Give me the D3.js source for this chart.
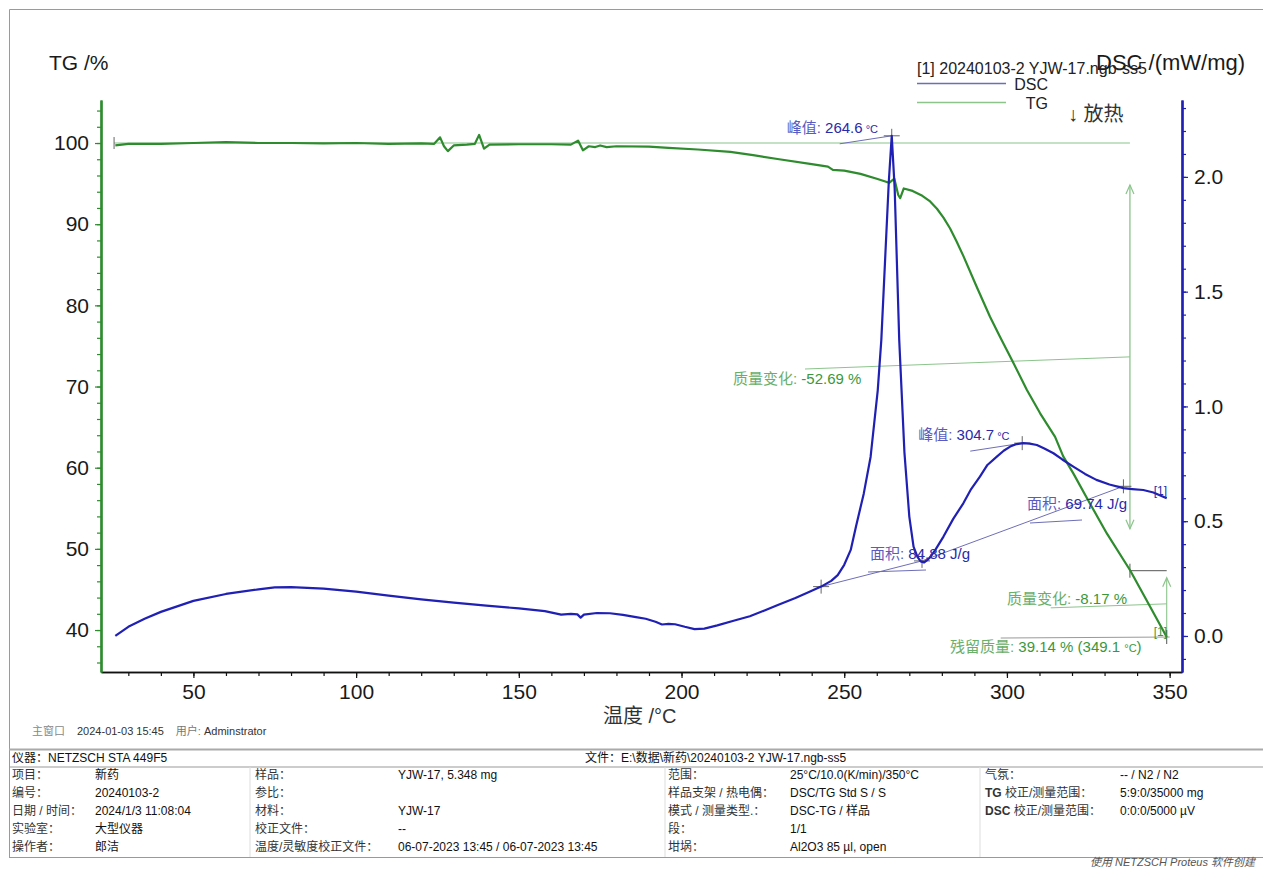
<!DOCTYPE html>
<html>
<head>
<meta charset="utf-8">
<title>DSC-TG 20240103-2 YJW-17</title>
<script src="https://cdn.jsdelivr.net/npm/d3@7"></script>
<style>
  html, body { margin: 0; background: #fff; }
  svg { display: block; font-family: "Liberation Sans", Arial, "Noto Sans CJK SC", sans-serif; }
  .tick text { font-family: "Liberation Sans", Arial, sans-serif; }
</style>
</head>
<body>
<script>
// ---- data ----
var tgTemp = [26, 30, 40, 50, 60, 70, 80, 90, 100, 110, 120, 124, 125.8, 127, 128.2, 130, 134, 136.5, 137.8, 139.3, 141,
    150, 160, 166, 168.2, 169.7, 171.5, 173.5, 175, 177, 180, 190, 196, 205, 215, 222, 230, 240, 245, 246.5, 250, 255,
    260, 263.8, 265.4, 266.6, 267.2, 268.3, 271, 274, 276.4, 278.5, 280.5, 282.5, 284.5, 286.6, 290.7, 294.8, 297.9,
    302.0, 306.1, 310.2, 314.8, 317.3, 320.4, 325.5, 330.7, 337.8, 343, 349.1];
var tgVal = [99.7, 99.9, 99.9, 100.0, 100.1, 100.0, 100.0, 99.95, 100.0, 99.9, 99.95, 99.9, 100.7, 99.6, 99.0, 99.7, 99.8,
    99.9, 101.0, 99.3, 99.8, 99.85, 99.85, 99.8, 100.3, 99.1, 99.6, 99.5, 99.7, 99.5, 99.6, 99.55, 99.4, 99.2, 98.9, 98.5,
    98.0, 97.4, 97.1, 96.7, 96.6, 96.2, 95.6, 95.1, 95.6, 93.6, 93.2, 94.4, 94.1, 93.5, 92.8, 91.9, 90.8, 89.5, 87.9,
    86.1, 82.3, 78.6, 76.1, 72.9, 69.6, 66.7, 63.8, 61.4, 59.3, 55.6, 51.9, 47.4, 43.6, 39.14];

var dscTemp = [26, 28, 30, 35, 40, 50, 60, 70, 75, 80, 90, 100, 110, 120, 130, 140, 150, 158, 163, 166, 168, 169, 170,
    174, 178, 182, 186, 189, 192, 194, 196, 198, 201, 204, 207, 211, 216, 221, 225.5, 229.6, 235, 239, 242.9, 246, 248,
    250, 252, 253.6, 256, 258.1, 260.3, 261.4, 262.5, 263.7, 264.6, 265.5, 266.9, 268.5, 270, 271.3, 272.5, 273.5,
    274.5, 275.5, 276.5, 278, 280.5, 283.5, 286.6, 289, 291.7, 294, 296.9, 299, 301, 303, 305, 307, 309.2, 311.5,
    314.3, 317, 320.4, 324, 327.5, 331.5, 335.8, 338.5, 341.9, 345, 349.1];
var dscVal = [0.0, 0.02, 0.04, 0.075, 0.105, 0.153, 0.183, 0.203, 0.212, 0.213, 0.206, 0.193, 0.176, 0.159, 0.145, 0.132,
    0.12, 0.108, 0.093, 0.096, 0.094, 0.080, 0.093, 0.100, 0.099, 0.092, 0.082, 0.075, 0.062, 0.050, 0.053, 0.051,
    0.040, 0.030, 0.032, 0.046, 0.066, 0.086, 0.111, 0.135, 0.165, 0.190, 0.215, 0.240, 0.265, 0.31, 0.375, 0.476,
    0.62, 0.78, 1.07, 1.29, 1.62, 1.98, 2.179, 1.95, 1.29, 0.80, 0.52, 0.389, 0.345, 0.325, 0.320, 0.330, 0.345,
    0.375, 0.433, 0.51, 0.578, 0.64, 0.694, 0.745, 0.781, 0.807, 0.825, 0.836, 0.840, 0.838, 0.832, 0.817, 0.796,
    0.769, 0.738, 0.706, 0.680, 0.660, 0.644, 0.640, 0.636, 0.625, 0.600];

var xTicks = [50, 100, 150, 200, 250, 300, 350];
var tgTicks = [40, 50, 60, 70, 80, 90, 100];
var dscTicks = [0.0, 0.5, 1.0, 1.5, 2.0];

// evaluation points (temperature, value)
var dscPeaks = [[264.6, 2.179], [304.7, 0.840]];
var dscBase = [[242.9, 0.215], [273.9, 0.327], [335.8, 0.652]];
var tgSteps = [[25, 100], [337.8, 47.31], [349.1, 39.14]];

var legendTitle = "[1]  20240103-2 YJW-17.ngb-ss5";
var legendItems = ["DSC", "TG"];

var tableHead = ["仪器：NETZSCH STA 449F5", "文件：E:\\数据\\新药\\20240103-2 YJW-17.ngb-ss5"];
var tableRows = [
    ["项目：", "新药", "样品：", "YJW-17, 5.348 mg", "范围：", "25°C/10.0(K/min)/350°C", "气氛：", "-- / N2 / N2"],
    ["编号：", "20240103-2", "参比：", "", "样品支架 / 热电偶：", "DSC/TG Std S / S", "TG 校正/测量范围：", "5:9:0/35000 mg"],
    ["日期 / 时间：", "2024/1/3 11:08:04", "材料：", "YJW-17", "模式 / 测量类型.：", "DSC-TG / 样品", "DSC 校正/测量范围：", "0:0:0/5000 µV"],
    ["实验室：", "大型仪器", "校正文件：", "--", "段：", "1/1", "", ""],
    ["操作者：", "郎洁", "温度/灵敏度校正文件：", "06-07-2023 13:45 / 06-07-2023 13:45", "坩埚：", "Al2O3 85 µl, open", "", ""]
];

// ---- layout ----
var W = 1263, H = 869;
var green = "#2e8b2e", blue = "#2020b4";
var lgreen = "#8cc48c", lblue = "#6e6eb8";

var svg = d3.select("body").append("svg").attr("width", W).attr("height", H);

var x = d3.scaleLinear().domain([21.6, 353.8]).range([101, 1182]);
var yTG = d3.scaleLinear().domain([34.83, 105.3]).range([672, 100]);
var yDSC = d3.scaleLinear().domain([-0.157, 2.335]).range([672, 100]);

// outer frame
svg.append("path").attr("d", "M9.5,858 V9.5 H1263").attr("fill", "none").attr("stroke", "#9a9a9a");

// axes
function styleAxis(g, col, w) {
    g.select(".domain").attr("stroke", col).attr("stroke-width", w);
    g.selectAll(".tick line").attr("stroke", col).attr("stroke-width", 1.2);
    g.selectAll(".tick text").attr("fill", "#1a1a1a").attr("font-size", 21);
}

svg.append("g").attr("transform", "translate(0,672)")
    .call(d3.axisBottom(x).tickValues(d3.range(30, 351, 10)).tickSize(4).tickFormat("").tickSizeOuter(0))
    .call(styleAxis, "#111", 1.6);
svg.append("g").attr("transform", "translate(0,672)")
    .call(d3.axisBottom(x).tickValues(xTicks).tickSize(6).tickPadding(6).tickSizeOuter(0))
    .call(styleAxis, "#111", 1.6);

svg.append("g").attr("transform", "translate(101,0)")
    .call(d3.axisLeft(yTG).tickValues(d3.range(36, 105, 2)).tickSize(4).tickFormat("").tickSizeOuter(0))
    .call(styleAxis, green, 2.2);
svg.append("g").attr("transform", "translate(101,0)")
    .call(d3.axisLeft(yTG).tickValues(tgTicks).tickSize(6).tickPadding(6).tickSizeOuter(0))
    .call(styleAxis, green, 2.2);

svg.append("g").attr("transform", "translate(1182,0)")
    .call(d3.axisRight(yDSC).tickValues(d3.range(-1, 24).map(function (d) { return d / 10; })).tickSize(4).tickFormat("").tickSizeOuter(0))
    .call(styleAxis, blue, 2.2);
svg.append("g").attr("transform", "translate(1182,0)")
    .call(d3.axisRight(yDSC).tickValues(dscTicks).tickSize(6).tickPadding(6).tickFormat(d3.format(".1f")).tickSizeOuter(0))
    .call(styleAxis, blue, 2.2);

// axis titles
svg.append("text").attr("x", 49).attr("y", 70).attr("font-size", 21).attr("fill", "#1a1a1a").text("TG /%");
svg.append("text").attr("x", 1096).attr("y", 70).attr("font-size", 22).attr("fill", "#1a1a1a").text("DSC /(mW/mg)");
svg.append("text").attr("x", 603).attr("y", 723).attr("font-size", 20).attr("fill", "#333").text("温度 /°C");
svg.append("text").attr("x", 1068).attr("y", 121).attr("font-size", 20).attr("fill", "#333").text("↓ 放热");

// legend
svg.append("text").attr("x", 917).attr("y", 74).attr("font-size", 16).attr("fill", "#222").text(legendTitle);
legendItems.forEach(function (d, i) {
    var yy = 83.5 + i * 19;
    svg.append("line").attr("x1", 917).attr("x2", 1006).attr("y1", yy).attr("y2", yy)
        .attr("stroke", i ? lgreen : lblue).attr("stroke-width", 1.3);
    svg.append("text").attr("x", 1048).attr("y", yy + 6).attr("text-anchor", "end")
        .attr("font-size", 16).attr("fill", "#222").text(d);
});

// ---- TG evaluation marks (under curves) ----
var p0 = tgSteps[0], p1 = tgSteps[1], p2 = tgSteps[2];
var xs = x(p1[0]), yTop = yTG(100), yMid = yTG(p1[1]);
svg.append("line").attr("x1", x(p0[0]) + 2).attr("x2", xs).attr("y1", yTop).attr("y2", yTop)
    .attr("stroke", lgreen).attr("stroke-width", 1.2);
svg.append("line").attr("x1", x(p0[0]) + 2).attr("x2", x(p0[0]) + 2).attr("y1", yTop - 6).attr("y2", yTop + 6)
    .attr("stroke", "#666").attr("stroke-width", 1);

function arrowHead(px, py, dir, col) {
    // dir: -1 points up, 1 points down
    svg.append("path")
        .attr("d", "M" + (px - 4) + "," + (py - dir * 9) + " L" + px + "," + py + " L" + (px + 4) + "," + (py - dir * 9))
        .attr("fill", "none").attr("stroke", col).attr("stroke-width", 1.2);
}
var aTop = yTop + 42, aBot = yMid - 42;
svg.append("line").attr("x1", xs).attr("x2", xs).attr("y1", aTop).attr("y2", aBot).attr("stroke", lgreen).attr("stroke-width", 1.3);
arrowHead(xs, aTop, -1, lgreen);
arrowHead(xs, aBot, 1, lgreen);
svg.append("line").attr("x1", 805).attr("y1", 369).attr("x2", xs).attr("y2", (yTop + yMid) / 2)
    .attr("stroke", lgreen).attr("stroke-width", 1);

var xe = x(p2[0]), yEnd = yTG(p2[1]);
svg.append("line").attr("x1", xs).attr("x2", xe).attr("y1", yMid).attr("y2", yMid).attr("stroke", "#555").attr("stroke-width", 1);
svg.append("line").attr("x1", xs).attr("x2", xs).attr("y1", yMid - 7).attr("y2", yMid + 7).attr("stroke", "#555").attr("stroke-width", 1);
svg.append("line").attr("x1", xe).attr("x2", xe).attr("y1", yMid + 7).attr("y2", yEnd).attr("stroke", lgreen).attr("stroke-width", 1.1);
arrowHead(xe, yMid + 7, -1, lgreen);
svg.append("line").attr("x1", xe - 116).attr("y1", (yMid + yEnd) / 2 + 4).attr("x2", xe).attr("y2", (yMid + yEnd) / 2)
    .attr("stroke", lgreen).attr("stroke-width", 1);
svg.append("line").attr("x1", xe - 166).attr("y1", yEnd + 1).attr("x2", xe + 3).attr("y2", yEnd).attr("stroke", "#999").attr("stroke-width", 1);
svg.append("line").attr("x1", xe).attr("x2", xe).attr("y1", yEnd - 7).attr("y2", yEnd + 7).attr("stroke", "#555").attr("stroke-width", 1);

// ---- DSC evaluation marks ----
function plus(px, py, col) {
    svg.append("line").attr("x1", px - 8).attr("x2", px + 8).attr("y1", py).attr("y2", py).attr("stroke", col).attr("stroke-width", 1);
    svg.append("line").attr("x1", px).attr("x2", px).attr("y1", py - 7).attr("y2", py + 7).attr("stroke", col).attr("stroke-width", 1);
}
dscPeaks.forEach(function (d) {
    var px = x(d[0]), py = yDSC(d[1]);
    svg.append("line").attr("x1", px - 52).attr("y1", py + 8).attr("x2", px).attr("y2", py).attr("stroke", lblue).attr("stroke-width", 1);
    plus(px, py, "#666");
});
for (var i = 0; i < 2; i++) {
    var a = dscBase[i], b = dscBase[i + 1];
    svg.append("line").attr("x1", x(a[0])).attr("y1", yDSC(a[1])).attr("x2", x(b[0])).attr("y2", yDSC(b[1]))
        .attr("stroke", lblue).attr("stroke-width", 1);
}
dscBase.forEach(function (d) { plus(x(d[0]), yDSC(d[1]), "#666"); });
// leaders from baselines to area labels
svg.append("line").attr("x1", 868).attr("y1", 572).attr("x2", 926).attr("y2", 570).attr("stroke", lblue).attr("stroke-width", 1);
svg.append("line").attr("x1", 1030).attr("y1", 523).attr("x2", 1082).attr("y2", 520).attr("stroke", lblue).attr("stroke-width", 1);

// ---- curves ----
var lineTG = d3.line().x(function (d) { return x(d[0]); }).y(function (d) { return yTG(d[1]); });
var lineDSC = d3.line().x(function (d) { return x(d[0]); }).y(function (d) { return yDSC(d[1]); });

svg.append("path").datum(d3.zip(tgTemp, tgVal)).attr("d", lineTG)
    .attr("fill", "none").attr("stroke", green).attr("stroke-width", 2.2).attr("stroke-linejoin", "round");
svg.append("path").datum(d3.zip(dscTemp, dscVal)).attr("d", lineDSC)
    .attr("fill", "none").attr("stroke", blue).attr("stroke-width", 2.2).attr("stroke-linejoin", "round");

// ---- annotation texts ----
function note(px, py, parts, size) {
    var t = svg.append("text").attr("x", px).attr("y", py).attr("font-size", size || 15);
    parts.forEach(function (p) {
        t.append("tspan").attr("fill", p[1]).attr("font-size", p[2] || null).text(p[0]);
    });
}
var gLab = "#6aae6a", gNum = "#3a983a", bLab = "#5a5abf", bNum = "#2a2aaa";
note(x(264.6) - 105, yDSC(2.179) - 3, [["峰值: ", bLab], ["264.6", bNum], [" °C", bNum, 11]]);
note(x(304.7) - 104, yDSC(0.840) - 3, [["峰值: ", bLab], ["304.7", bNum], [" °C", bNum, 11]]);
note(870, 559, [["面积: ", bLab], ["84.88 J/g", bNum]]);
note(1027, 509, [["面积: ", bLab], ["69.74 J/g", bNum]]);
note(733, 384, [["质量变化: ", gLab], ["-52.69 %", gNum]]);
note(1007, 604, [["质量变化: ", gLab], ["-8.17 %", gNum]]);
note(950, 652, [["残留质量: ", gLab], ["39.14 % (349.1 ", gNum], ["°C", gNum, 11], [")", gNum]]);
svg.append("text").attr("x", xe - 13).attr("y", yDSC(0.600) - 3).attr("font-size", 12).attr("fill", bNum).text("[1]");
svg.append("text").attr("x", xe - 13).attr("y", yEnd - 1).attr("font-size", 12).attr("fill", gNum).text("[1]");

// ---- footer / table ----
var ft = svg.append("text").attr("x", 32).attr("y", 735).attr("font-size", 11).attr("fill", "#333");
ft.append("tspan").attr("fill", "#888").text("主窗口");
ft.append("tspan").attr("dx", 12).text("2024-01-03 15:45");
ft.append("tspan").attr("dx", 12).attr("fill", "#777").text("用户: ");
ft.append("tspan").text("Adminstrator");

svg.append("line").attr("x1", 9).attr("x2", W).attr("y1", 749.5).attr("y2", 749.5).attr("stroke", "#aaa").attr("stroke-width", 2);
svg.append("line").attr("x1", 9).attr("x2", W).attr("y1", 767).attr("y2", 767).attr("stroke", "#999").attr("stroke-width", 1);
svg.append("line").attr("x1", 9).attr("x2", W).attr("y1", 857.5).attr("y2", 857.5).attr("stroke", "#999").attr("stroke-width", 1.2);
[250, 665, 980].forEach(function (vx) {
    svg.append("line").attr("x1", vx).attr("x2", vx).attr("y1", 767).attr("y2", 857).attr("stroke", "#ddd").attr("stroke-width", 1);
});

svg.append("text").attr("x", 12).attr("y", 762).attr("font-size", 12).attr("fill", "#111").text(tableHead[0]);
svg.append("text").attr("x", 585).attr("y", 762).attr("font-size", 12).attr("fill", "#111").text(tableHead[1]);

var colX = [12, 95, 255, 398, 668, 790, 985, 1120];
tableRows.forEach(function (row, r) {
    row.forEach(function (cell, c) {
        if (!cell) return;
        var isLabel = c % 2 === 0;
        var bold = isLabel && /^(TG|DSC) /.test(cell);
        var t = svg.append("text").attr("x", colX[c]).attr("y", 779 + r * 18).attr("font-size", 12)
            .attr("fill", isLabel ? "#333" : "#111");
        if (bold) {
            var sp = cell.indexOf(" ");
            t.append("tspan").attr("font-weight", "bold").text(cell.slice(0, sp));
            t.append("tspan").text(cell.slice(sp));
        } else {
            t.text(cell);
        }
    });
});
svg.append("text").attr("x", 1090).attr("y", 866).attr("font-size", 11).attr("font-style", "italic").attr("fill", "#555")
    .text("使用 NETZSCH Proteus 软件创建");
</script>
</body>
</html>
